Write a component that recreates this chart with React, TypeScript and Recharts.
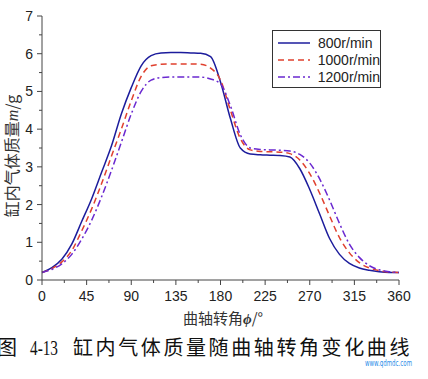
import React from 'react';
import { LineChart, Line, XAxis, YAxis, Legend } from 'recharts';

// crank angle (deg)
const angles = [0, 10, 20, 30, 40, 50, 60, 70, 80, 90, 100, 110, 120, 130, 140, 150, 160, 170, 180,
  190, 200, 210, 220, 230, 240, 250, 260, 270, 280, 290, 300, 310, 320, 330, 340, 350, 360];

// in-cylinder gas mass (g)
const mass800 = [0.2, 0.33, 0.55, 0.95, 1.55, 2.15, 2.85, 3.55, 4.4, 5.1, 5.68, 5.95, 6.02, 6.03, 6.03, 6.02, 6.01, 5.92, 5.25,
  4.28, 3.5, 3.34, 3.32, 3.31, 3.3, 3.26, 2.95, 2.4, 1.75, 1.1, 0.68, 0.44, 0.32, 0.26, 0.22, 0.2, 0.2];
const mass1000 = [0.2, 0.3, 0.48, 0.78, 1.3, 1.88, 2.55, 3.28, 4.0, 4.75, 5.4, 5.68, 5.72, 5.73, 5.73, 5.73, 5.72, 5.62, 5.3,
  4.5, 3.75, 3.45, 3.41, 3.4, 3.39, 3.35, 3.18, 2.82, 2.3, 1.7, 1.12, 0.72, 0.46, 0.32, 0.25, 0.21, 0.2];
const mass1200 = [0.2, 0.28, 0.43, 0.68, 1.08, 1.58, 2.2, 2.9, 3.65, 4.4, 5.0, 5.3, 5.37, 5.38, 5.38, 5.38, 5.38, 5.33, 5.2,
  4.62, 3.85, 3.5, 3.46, 3.45, 3.44, 3.42, 3.33, 3.1, 2.68, 2.12, 1.5, 0.95, 0.6, 0.38, 0.27, 0.22, 0.2];

const bottomTicks = [0, 22.5, 45, 67.5, 90, 112.5, 135, 157.5, 180, 202.5, 225, 247.5, 270, 292.5, 315, 337.5, 360];
const topTicks = [0, 36, 72, 108, 144, 180, 216, 252, 288, 324, 360];
const leftTicks = [0, 0.5, 1, 1.5, 2, 2.5, 3, 3.5, 4, 4.5, 5, 5.5, 6, 6.5, 7];
const rightTicks = [0, 0.7, 1.4, 2.1, 2.8, 3.5, 4.2, 4.9, 5.6, 6.3, 7];

const series = [
  { key: 'm800', name: '800r/min', color: '#1c1c9c', dash: undefined },
  { key: 'm1000', name: '1000r/min', color: '#e0402e', dash: '6 4' },
  { key: 'm1200', name: '1200r/min', color: '#6a28d0', dash: '7 3 2 3' },
];

const data = angles.map((a, i) => ({ angle: a, m800: mass800[i], m1000: mass1000[i], m1200: mass1200[i] }));

const axisColor = '#444';
const tickFont = '"Liberation Sans", Arial, sans-serif';
const cjkFont = '"Noto Sans CJK SC", sans-serif';
const serifFont = '"Liberation Serif", serif';

const BottomTick = (props: any) => {
  const { x, y, payload } = props;
  const major = payload.value % 45 === 0;
  return (
    <g>
      <line x1={x} x2={x} y1={y} y2={y + (major ? 5 : 3)} stroke={axisColor} />
      {major && (
        <text x={x} y={y + 21} textAnchor="middle" fontSize={14} fontFamily={tickFont} fill="#222">
          {payload.value}
        </text>
      )}
    </g>
  );
};

const LeftTick = (props: any) => {
  const { x, y, payload } = props;
  const major = Number.isInteger(payload.value);
  return (
    <g>
      <line x1={x} x2={x - (major ? 5 : 3)} y1={y} y2={y} stroke={axisColor} />
      {major && (
        <text x={x - 9} y={y + 5} textAnchor="end" fontSize={14} fontFamily={tickFont} fill="#222">
          {payload.value}
        </text>
      )}
    </g>
  );
};

const TopTick = (props: any) => {
  const { x, y, payload } = props;
  const major = payload.value % 72 === 0;
  return <line x1={x} x2={x} y1={y} y2={y + (major ? 5 : 3)} stroke={axisColor} />;
};

const RightTick = (props: any) => {
  const { x, y } = props;
  return <line x1={x} x2={x - 4} y1={y} y2={y} stroke={axisColor} />;
};

const LegendBox = () => (
  <div style={{ border: '1px solid #333', background: '#fff', width: 107, padding: '3px 0 2px 0' }}>
    {series.map((s) => (
      <div key={s.key} style={{ display: 'flex', alignItems: 'center', height: 17 }}>
        <svg width={40} height={10} style={{ marginLeft: 5 }}>
          <line x1={0} x2={32} y1={5} y2={5} stroke={s.color} strokeWidth={1.5} strokeDasharray={s.dash} />
        </svg>
        <span style={{ fontFamily: tickFont, fontSize: 14, color: '#222' }}>{s.name}</span>
      </div>
    ))}
  </div>
);

const App = () => {
  return (
    <div style={{ position: 'absolute', left: 0, top: 0, width: 428, height: 379, background: '#fff' }}>
      <LineChart width={428} height={379} data={data} margin={{ top: 16, right: 29, bottom: 69, left: 0 }}>
        <XAxis
          dataKey="angle"
          type="number"
          domain={[0, 360]}
          ticks={bottomTicks}
          interval={0}
          height={30}
          tickLine={false}
          tickSize={0}
          tickMargin={0}
          tick={<BottomTick />}
          axisLine={{ stroke: axisColor }}
        />
        <XAxis
          xAxisId="top"
          orientation="top"
          type="number"
          domain={[0, 360]}
          ticks={topTicks}
          interval={0}
          height={0}
          tickLine={false}
          tickSize={0}
          tickMargin={0}
          tick={<TopTick />}
          axisLine={{ stroke: axisColor }}
        />
        <YAxis
          type="number"
          domain={[0, 7]}
          ticks={leftTicks}
          interval={0}
          width={42}
          tickLine={false}
          tickSize={0}
          tickMargin={0}
          tick={<LeftTick />}
          axisLine={{ stroke: axisColor }}
        />
        <YAxis
          yAxisId="right"
          orientation="right"
          type="number"
          domain={[0, 7]}
          ticks={rightTicks}
          interval={0}
          width={0}
          tickLine={false}
          tickSize={0}
          tickMargin={0}
          tick={<RightTick />}
          axisLine={{ stroke: axisColor }}
        />
        <Legend
          layout="horizontal"
          verticalAlign="middle"
          align="center"
          content={<LegendBox />}
          wrapperStyle={{ position: 'absolute', left: 272, top: 30, width: 'auto' }}
        />
        {series.map((s) => (
          <Line
            key={s.key}
            dataKey={s.key}
            name={s.name}
            type="monotone"
            stroke={s.color}
            strokeWidth={1.5}
            strokeDasharray={s.dash}
            dot={false}
            isAnimationActive={false}
          />
        ))}
      </LineChart>

      {/* y axis title */}
      <div
        style={{
          position: 'absolute',
          left: 11,
          top: 156,
          transform: 'translate(-50%, -50%) rotate(-90deg)',
          whiteSpace: 'nowrap',
          fontFamily: cjkFont,
          fontSize: 16,
          color: '#333',
        }}
      >
        缸内气体质量<span style={{ fontFamily: serifFont, fontStyle: 'italic' }}>m</span>/g
      </div>

      {/* x axis title */}
      <div
        style={{
          position: 'absolute',
          left: 183,
          top: 307,
          whiteSpace: 'nowrap',
          fontFamily: cjkFont,
          fontSize: 15,
          color: '#333',
        }}
      >
        曲轴转角<span style={{ fontFamily: serifFont, fontStyle: 'italic', fontWeight: 'bold' }}>ϕ</span>/°
      </div>

      {/* figure caption + watermark */}
      <svg width={428} height={379} style={{ position: 'absolute', left: 0, top: 0, pointerEvents: 'none' }}>
        <text x={-3} y={355} fontFamily={cjkFont} fontSize={20} fill="#111">图</text>
        <text x={30} y={355} fontFamily={serifFont} fontSize={21} textLength={28} lengthAdjust="spacingAndGlyphs" fill="#111">
          4-13
        </text>
        <text x={73} y={355} fontFamily={cjkFont} fontSize={20} letterSpacing={2.6} fill="#111">
          缸内气体质量随曲轴转角变化曲线
        </text>
        <text
          x={365}
          y={366}
          fontFamily={'"DejaVu Sans", sans-serif'}
          fontSize={9}
          textLength={47}
          lengthAdjust="spacingAndGlyphs"
          fill="#2a8ee8"
        >
          www.qdmdc.com
        </text>
      </svg>
    </div>
  );
};

export default App;
